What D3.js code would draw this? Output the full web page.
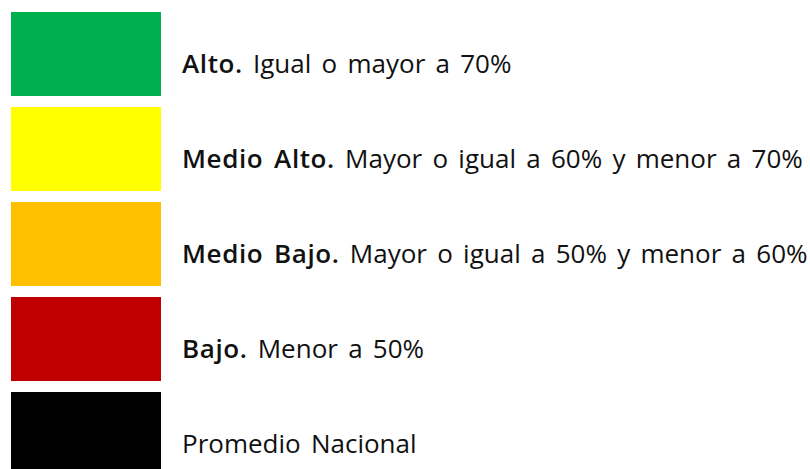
<!DOCTYPE html>
<html>
<head>
<meta charset="utf-8">
<script src="https://d3js.org/d3.v7.min.js"></script>
<style>
  body { margin: 0; background: #fff; }
  .label { font-family: "Open Sans", "Noto Sans", sans-serif; font-size: 26px; fill: #111; word-spacing: 3.5px; }
  .label .bold { font-weight: 600; letter-spacing: 0.6px; }
</style>
</head>
<body>
<svg width="810" height="469"></svg>
<script>
// legend categories
const levels = ["alto", "medioAlto", "medioBajo", "bajo", "promedio"];
const boldText = ["Alto.", "Medio Alto.", "Medio Bajo.", "Bajo.", ""];
const plainText = [
  " Igual o mayor a 70%",
  " Mayor o igual a 60% y menor a 70%",
  " Mayor o igual a 50% y menor a 60%",
  " Menor a 50%",
  "Promedio Nacional"
];
const colors = ["#00b050", "#ffff00", "#ffc000", "#c00000", "#000000"];

const svg = d3.select("svg");

// 84px boxes with an 11px gap between them
const y = d3.scaleBand()
  .domain(levels)
  .range([12, 12 + 95 * levels.length - 11])
  .paddingInner(11 / 95)
  .paddingOuter(0);

const color = d3.scaleOrdinal().domain(levels).range(colors);

const rows = svg.selectAll(".row")
  .data(levels)
  .enter().append("g")
  .attr("class", "row")
  .attr("transform", d => `translate(0, ${y(d)})`);

rows.append("rect")
  .attr("x", 11)
  .attr("width", 150)
  .attr("height", y.bandwidth())
  .style("fill", d => color(d));

const txt = rows.append("text")
  .attr("class", "label")
  .attr("x", 182)
  .attr("y", 61);

txt.append("tspan")
  .attr("class", "bold")
  .text((d, i) => boldText[i]);

txt.append("tspan")
  .text((d, i) => plainText[i]);
</script>
</body>
</html>
